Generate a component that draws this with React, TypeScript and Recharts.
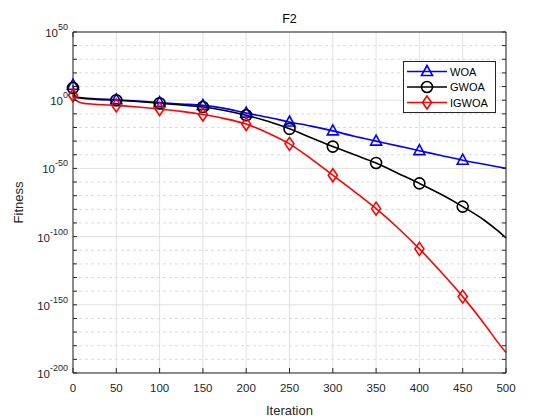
import React from 'react';
import {
  LineChart, Line, XAxis, YAxis, CartesianGrid, ReferenceLine, Legend, Label,
} from 'recharts';

// Iteration samples and log10(fitness)
const iterations = [0, 3, 10, 25, 50, 75, 100, 125, 150, 175, 200, 225, 250, 275, 300, 325, 350, 375, 400, 425, 450, 475, 490, 500];
const woaLog = [11, 2.5, 1.8, 1, 0.3, -0.7, -1.8, -2.8, -3.8, -6, -9.5, -12.5, -16, -19, -22.5, -26.5, -30, -33.5, -37, -40.5, -44, -47, -48.8, -50];
const gwoaLog = [9, 2, 1.5, 0.8, 0, -1, -2.2, -3.5, -5, -7.5, -11, -15.5, -21, -27.5, -34, -40, -46, -53.5, -61, -69, -78, -88, -95.5, -101];
const igwoaLog = [3.6, 0, -2, -3, -3.8, -5, -6.5, -8.2, -10.5, -13.5, -17.5, -24, -32, -43, -55, -67, -79.5, -93.5, -109, -126, -144, -164, -177, -185];

// iterations that carry a marker
const markerIters = [0, 50, 100, 150, 200, 250, 300, 350, 400, 450];

const xTicks = [0, 50, 100, 150, 200, 250, 300, 350, 400, 450, 500];
const yMajor = [-200, -150, -100, -50, 0, 50];
const yAll = Array.from({ length: 26 }, (_, i) => -200 + i * 10);
const yMinor = yAll.filter((v) => v % 50 !== 0);

const series = [
  { key: 'woa', name: 'WOA', color: '#0000ff', marker: 'triangle' },
  { key: 'gwoa', name: 'GWOA', color: '#000000', marker: 'circle' },
  { key: 'igwoa', name: 'IGWOA', color: '#ff0000', marker: 'diamond' },
];

const data = iterations.map((it, i) => ({
  iteration: it, woa: woaLog[i], gwoa: gwoaLog[i], igwoa: igwoaLog[i],
}));

const AXIS = '#262626';
const FONT = '"Liberation Sans", Arial, sans-serif';

const Marker = ({ kind, cx, cy, color }: any) => {
  if (kind === 'triangle') {
    return <polygon points={`${cx},${cy - 6} ${cx - 5.5},${cy + 4} ${cx + 5.5},${cy + 4}`} fill="none" stroke={color} strokeWidth={1.6} />;
  }
  if (kind === 'circle') {
    return <circle cx={cx} cy={cy} r={5.5} fill="none" stroke={color} strokeWidth={1.6} />;
  }
  return <polygon points={`${cx},${cy - 6.5} ${cx + 4.5},${cy} ${cx},${cy + 6.5} ${cx - 4.5},${cy}`} fill="none" stroke={color} strokeWidth={1.6} />;
};

const makeDot = (kind: string, color: string) => (props: any) => {
  const { cx, cy, payload, index } = props;
  if (!markerIters.includes(payload.iteration)) return <g key={`d${index}`} />;
  return <g key={`d${index}`}><Marker kind={kind} cx={cx} cy={cy} color={color} /></g>;
};

// ── MATLAB-style inward ticks ────────────────────────────────────────────────
const BottomTick = ({ x, y, payload }: any) => (
  <g>
    <line x1={x} y1={y} x2={x} y2={y - 5} stroke={AXIS} />
    <text x={x} y={y + 19} textAnchor="middle" fontSize={11.5} fill={AXIS}>{payload.value}</text>
  </g>
);
const TopTick = ({ x, y }: any) => <line x1={x} y1={y} x2={x} y2={y + 5} stroke={AXIS} />;

const SUP = 9;
const LeftTick = ({ x, y, payload }: any) => {
  const v = Math.round(Number(payload.value));
  if (v % 50 !== 0) {
    return <line x1={x} y1={y} x2={x + 4} y2={y} stroke={AXIS} />;
  }
  const exp = v === 0 ? '0' : String(v);
  // rough width of the exponent in Liberation Sans
  const expW = [...exp].reduce((w, c) => w + (c === '-' ? 0.333 : 0.556) * SUP, 0);
  return (
    <g>
      <line x1={x} y1={y} x2={x + 4} y2={y} stroke={AXIS} />
      <text x={x - 5 - expW} y={y + 5} textAnchor="end" fontSize={11.5} fill={AXIS}>10</text>
      <text x={x - 5} y={y - 2} textAnchor="end" fontSize={SUP} fill={AXIS}>{exp}</text>
    </g>
  );
};
const RightTick = ({ x, y }: any) => <line x1={x} y1={y} x2={x - 4} y2={y} stroke={AXIS} />;

const LegendBox = () => (
  <svg width={93} height={52} style={{ display: 'block', fontFamily: FONT }}>
    <rect x={0.5} y={0.5} width={92} height={51} fill="#fff" stroke={AXIS} />
    {series.map((s, i) => {
      const y = 10.5 + i * 15.5;
      return (
        <g key={s.key}>
          <line x1={4} x2={44} y1={y} y2={y} stroke={s.color} strokeWidth={1.6} />
          <Marker kind={s.marker} cx={24} cy={y} color={s.color} />
          <text x={47} y={y + 4} fontSize={11} fill="#000">{s.name}</text>
        </g>
      );
    })}
  </svg>
);

export default function App() {
  return (
    <div style={{ position: 'absolute', left: 0, top: 0, width: 560, height: 420, background: '#fff' }}>
      <LineChart
        width={560}
        height={420}
        data={data}
        margin={{ top: 30, right: 44, bottom: 0, left: 0 }}
        style={{ fontFamily: FONT }}
      >
        <CartesianGrid horizontal={false} stroke="#e1e1e1" strokeWidth={1} />
        {yMinor.map((v) => (
          <ReferenceLine key={`m${v}`} y={v} stroke="#dadada" strokeDasharray="3 3" strokeWidth={1} />
        ))}
        {yMajor.map((v) => (
          <ReferenceLine key={`M${v}`} y={v} stroke="#e1e1e1" strokeWidth={1} />
        ))}

        <XAxis
          dataKey="iteration"
          type="number"
          domain={[0, 500]}
          ticks={xTicks}
          interval={0}
          height={47}
          tickSize={0}
          tickMargin={0}
          tickLine={false}
          axisLine={{ stroke: AXIS }}
          tick={<BottomTick />}
        >
          <Label value="Iteration" position="insideBottom" offset={5} fontSize={13} fill={AXIS} />
        </XAxis>
        <XAxis
          xAxisId="top"
          orientation="top"
          type="number"
          domain={[0, 500]}
          allowDataOverflow
          ticks={xTicks}
          interval={0}
          height={2}
          tickSize={0}
          tickMargin={0}
          tickLine={false}
          axisLine={{ stroke: AXIS }}
          tick={<TopTick />}
        >
          <Label value="F2" position="top" offset={7} fontSize={12.5} fill="#000" />
        </XAxis>
        <YAxis
          type="number"
          domain={[-200, 50]}
          allowDataOverflow
          ticks={yAll}
          interval={0}
          width={73}
          tickSize={0}
          tickMargin={0}
          tickLine={false}
          axisLine={{ stroke: AXIS }}
          tick={<LeftTick />}
        >
          <Label value="Fitness" angle={-90} position="insideLeft" offset={18} fontSize={13} fill={AXIS} style={{ textAnchor: 'middle' }} />
        </YAxis>
        <YAxis
          yAxisId="right"
          orientation="right"
          type="number"
          domain={[-200, 50]}
          allowDataOverflow
          ticks={yAll}
          interval={0}
          width={10}
          tickSize={0}
          tickMargin={0}
          tickLine={false}
          axisLine={{ stroke: AXIS }}
          tick={<RightTick />}
        />

        {series.map((s) => (
          <Line
            key={s.key}
            type="monotone"
            dataKey={s.key}
            name={s.name}
            stroke={s.color}
            strokeWidth={1.6}
            dot={makeDot(s.marker, s.color)}
            activeDot={false}
            isAnimationActive={false}
          />
        ))}

        <Legend
          layout="vertical"
          align="center"
          verticalAlign="middle"
          content={() => <LegendBox />}
          wrapperStyle={{ left: 403, top: 61, width: 93, height: 52 }}
        />
      </LineChart>
    </div>
  );
}
